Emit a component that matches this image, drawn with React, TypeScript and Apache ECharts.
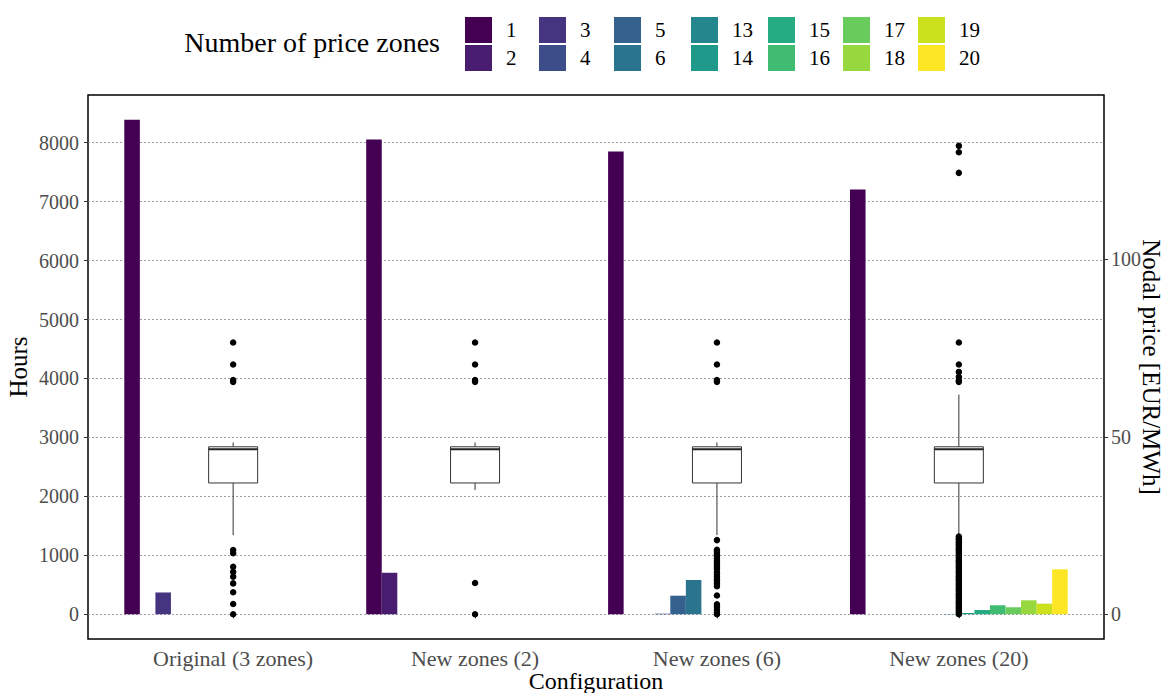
import React, { useEffect, useRef } from "react";
import * as echarts from "echarts";

const categories = ["Original (3 zones)", "New zones (2)", "New zones (6)", "New zones (20)"];
const zoneLevels = ["1", "2", "3", "4", "5", "6", "13", "14", "15", "16", "17", "18", "19", "20"];
const zoneColors = ["#440154", "#481C6E", "#453581", "#3D4D8A", "#34618D", "#2B748E", "#24878E", "#1F998A", "#25AC82", "#40BC72", "#67CC5C", "#97D83F", "#CBE11E", "#FDE725"];

// Hours per number of price zones, per configuration
const hours1 = [8390, 8056, 7853, 7208];
const hours2 = [0, 704, 0, 0];
const hours3 = [370, 0, 0, 0];
const hours4 = [0, 0, 10, 0];
const hours5 = [0, 0, 315, 0];
const hours6 = [0, 0, 581, 0];
const hours13 = [0, 0, 0, 5];
const hours14 = [0, 0, 0, 22];
const hours15 = [0, 0, 0, 73];
const hours16 = [0, 0, 0, 153];
const hours17 = [0, 0, 0, 119];
const hours18 = [0, 0, 0, 237];
const hours19 = [0, 0, 0, 180];
const hours20 = [0, 0, 0, 763];
const hoursByLevel = [hours1, hours2, hours3, hours4, hours5, hours6, hours13, hours14, hours15, hours16, hours17, hours18, hours19, hours20];

// Nodal price box stats: [lower whisker, Q1, median, Q3, upper whisker]
const boxOriginal = [22.3, 37.0, 46.5, 47.2, 48.4];
const boxNew2 = [35.0, 37.0, 46.5, 47.2, 48.4];
const boxNew6 = [22.3, 37.0, 46.5, 47.2, 48.4];
const boxNew20 = [22.0, 37.0, 46.5, 47.2, 61.9];
const boxStats = [boxOriginal, boxNew2, boxNew6, boxNew20];

// Outliers (EUR/MWh)
const outOriginal = [76.6, 70.4, 66.0, 65.5, 18.1, 17.2, 13.4, 12.0, 10.6, 8.7, 6.2, 2.9, 0.0];
const outNew2 = [76.6, 70.4, 66.0, 65.5, 8.8, 0.0];
const outNew6 = [76.6, 70.4, 66.0, 65.5, 20.9, 18.2, 17.6, 17.0, 16.4, 15.8, 15.1, 14.6, 14.0, 13.3, 12.8, 11.9, 11.2, 10.6, 9.9, 9.3, 8.6, 7.9, 5.3, 2.8, 2.1, 1.2, 0.5, 0.0];
const outNew20 = [132.0, 130.2, 124.4, 76.6, 70.4, 68.3, 66.9, 65.9, 65.5, 21.9, 21.3, 20.9, 20.3, 19.8, 19.4, 18.8, 18.3, 17.9, 17.4, 16.8, 16.4, 15.9, 15.3, 14.9, 14.4, 13.8, 13.4, 12.9, 12.3, 11.9, 11.4, 10.8, 10.4, 9.9, 9.4, 8.8, 8.4, 7.9, 7.3, 6.9, 6.4, 5.8, 5.4, 4.9, 4.4, 3.8, 3.4, 2.9, 2.3, 1.9, 1.4, 0.9, 0.4, 0.0];
const outliers = [outOriginal, outNew2, outNew6, outNew20];

const hoursTicks = [0, 1000, 2000, 3000, 4000, 5000, 6000, 7000, 8000];
const priceTicks = [0, 50, 100];

const HOURS_MIN = -419.5;
const HOURS_MAX = 8809.5;
const HOURS_PER_EUR = 60.2;

const FONT = "'Liberation Serif', 'Times New Roman', serif";

export default function App() {
  const ref = useRef<HTMLDivElement>(null);
  useEffect(() => {
    if (!ref.current) return;
    const chart = echarts.init(ref.current, undefined, { renderer: "svg" });

    const legendColumns = [["1", "2"], ["3", "4"], ["5", "6"], ["13", "14"], ["15", "16"], ["17", "18"], ["19", "20"]];
    const legendLefts = [460, 534, 609, 686, 763, 838, 913];

    const barSeries = zoneLevels.map((lvl, i) => ({
      name: lvl,
      type: "bar",
      xAxisIndex: 1,
      yAxisIndex: 2,
      data: hoursByLevel[i],
      barGap: "0%",
      barCategoryGap: "10%",
      itemStyle: { color: zoneColors[i] },
      z: 2,
    }));

    const boxData = boxStats.map((b, i) => [i, ...b]);
    const outlierData: number[][] = [];
    outliers.forEach((arr, i) => arr.forEach((v) => outlierData.push([i, v])));

    const plain = (v: number) => String(v);

    const option: any = {
      animation: false,
      textStyle: { fontFamily: FONT },
      graphic: [
        {
          type: "text",
          x: 440,
          y: 42,
          style: { text: "Number of price zones", fontFamily: FONT, fontSize: 28, fill: "#000", textAlign: "right", textVerticalAlign: "middle" },
        },
      ],
      legend: legendColumns.map((col, i) => ({
        orient: "vertical",
        left: legendLefts[i],
        top: 12,
        itemWidth: 27,
        itemHeight: 26,
        itemGap: 2,
        icon: "rect",
        selectedMode: false,
        data: col,
        textStyle: { fontFamily: FONT, fontSize: 21, color: "#000", padding: [0, 0, 0, 9] },
      })),
      grid: [
        { left: 88, right: 62, top: 95, bottom: 54, show: true, borderColor: "#000", borderWidth: 1.5, backgroundColor: "transparent", containLabel: false, outerBoundsMode: "none" },
        { left: 112.2, right: 86.2, top: 95, bottom: 54, containLabel: false, outerBoundsMode: "none" },
      ],
      xAxis: [
        { type: "value", gridIndex: 0, min: 0, max: 1, show: false },
        {
          type: "category",
          gridIndex: 1,
          data: categories,
          axisLine: { show: false },
          axisTick: { show: true, alignWithLabel: true, length: 4, lineStyle: { color: "#333" } },
          axisLabel: { fontFamily: FONT, fontSize: 22, color: "#4d4d4d", margin: 8 },
          splitLine: { show: false },
          name: "Configuration",
          nameLocation: "middle",
          nameGap: 30,
          nameMoveOverlap: false,
          nameTextStyle: { fontFamily: FONT, fontSize: 24, color: "#000" },
        },
      ],
      yAxis: [
        {
          type: "value",
          gridIndex: 0,
          min: HOURS_MIN,
          max: HOURS_MAX,
          splitNumber: 9,
          axisLine: { show: false },
          axisTick: { show: true, length: 4, lineStyle: { color: "#333" }, customValues: hoursTicks },
          axisLabel: { fontFamily: FONT, fontSize: 20, color: "#4d4d4d", margin: 9, customValues: hoursTicks, formatter: plain },
          splitLine: { show: true, lineStyle: { color: "#888", type: [2, 2], width: 0.8 } },
          name: "Hours",
          nameLocation: "middle",
          nameGap: 57,
          nameMoveOverlap: false,
          nameTextStyle: { fontFamily: FONT, fontSize: 25, color: "#000" },
        },
        {
          type: "value",
          gridIndex: 0,
          position: "right",
          min: HOURS_MIN / HOURS_PER_EUR,
          max: HOURS_MAX / HOURS_PER_EUR,
          splitNumber: 3,
          axisLine: { show: false },
          axisTick: { show: true, length: 4, lineStyle: { color: "#333" }, customValues: priceTicks },
          axisLabel: { fontFamily: FONT, fontSize: 20, color: "#4d4d4d", margin: 7, customValues: priceTicks, formatter: plain },
          splitLine: { show: false },
          name: "Nodal price [EUR/MWh]",
          nameLocation: "middle",
          nameRotate: -90,
          nameGap: 35,
          nameMoveOverlap: false,
          nameTextStyle: { fontFamily: FONT, fontSize: 25, color: "#000" },
        },
        { type: "value", gridIndex: 1, min: HOURS_MIN, max: HOURS_MAX, show: false, splitLine: { show: false } },
        { type: "value", gridIndex: 1, min: HOURS_MIN / HOURS_PER_EUR, max: HOURS_MAX / HOURS_PER_EUR, show: false, splitLine: { show: false } },
      ],
      series: [
        ...barSeries,
        {
          type: "custom",
          name: "box",
          xAxisIndex: 1,
          yAxisIndex: 3,
          data: boxData,
          encode: { x: 0, y: [1, 2, 3, 4, 5] },
          z: 3,
          renderItem: (params: any, api: any) => {
            const x = api.value(0);
            const lo = api.coord([x, api.value(1)]);
            const q1 = api.coord([x, api.value(2)]);
            const med = api.coord([x, api.value(3)]);
            const q3 = api.coord([x, api.value(4)]);
            const hi = api.coord([x, api.value(5)]);
            const hw = 24.5;
            const lineStyle = { stroke: "#333", lineWidth: 1 };
            return {
              type: "group",
              children: [
                { type: "line", shape: { x1: lo[0], y1: lo[1], x2: q1[0], y2: q1[1] }, style: lineStyle },
                { type: "line", shape: { x1: q3[0], y1: q3[1], x2: hi[0], y2: hi[1] }, style: lineStyle },
                { type: "rect", shape: { x: q3[0] - hw, y: q3[1], width: hw * 2, height: q1[1] - q3[1] }, style: { fill: "#fff", stroke: "#333", lineWidth: 1 } },
                { type: "line", shape: { x1: med[0] - hw, y1: med[1], x2: med[0] + hw, y2: med[1] }, style: { stroke: "#222", lineWidth: 2 } },
              ],
            };
          },
        },
        {
          type: "scatter",
          name: "outliers",
          xAxisIndex: 1,
          yAxisIndex: 3,
          data: outlierData,
          symbolSize: 6.5,
          itemStyle: { color: "#000", opacity: 1 },
          z: 4,
        },
      ],
    };
    chart.setOption(option);
    return () => chart.dispose();
  }, []);
  return <div ref={ref} style={{ width: 1166, height: 693, position: "absolute", left: 0, top: 0 }} />;
}
